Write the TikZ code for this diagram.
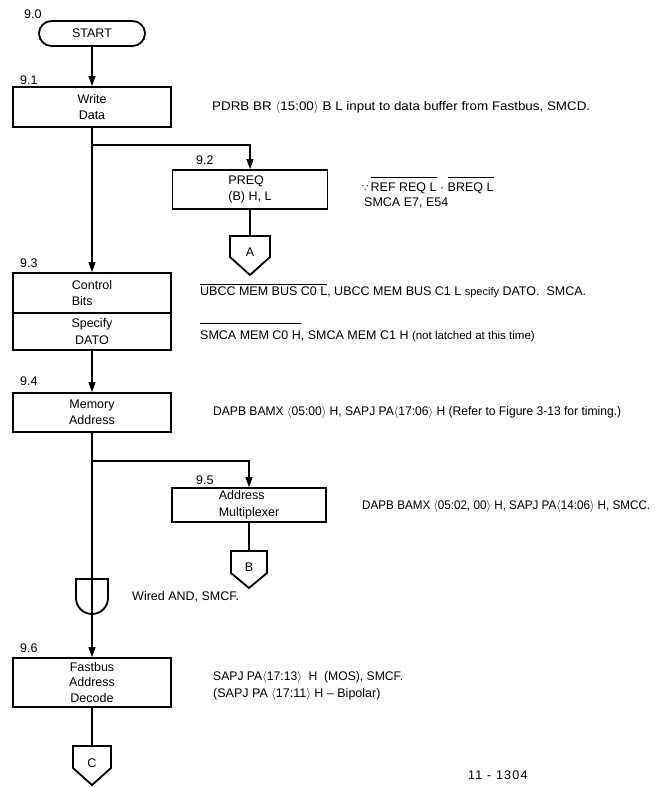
\documentclass[tikz,border=0pt]{standalone}
\usepackage{graphicx}
\usepackage{fontspec}
\setmainfont{Liberation Sans}
\newfontfamily\symfont{DejaVu Sans}
\newfontfamily\idfont[LetterSpace=10]{Liberation Sans}
\usetikzlibrary{arrows.meta}
\newcommand\angl{$\langle$}
\newcommand\angr{$\rangle$}
\newcommand\myovl[2][2pt]{\setbox0\hbox{#2}\rlap{\raisebox{\dimexpr\ht0+#1\relax}{\rule{\wd0}{0.8pt}}}\box0\relax}
\newcommand\fitto[2]{\resizebox{#1}{\height}{#2}}
\begin{document}
\begin{tikzpicture}[x=1pt,y=-1pt,
  every node/.style={font=\fontsize{12.5}{16.5}\selectfont},
  procbox/.style={draw, line width=1.8pt, inner sep=0pt, align=center, minimum width=158pt},
  conn/.style={line width=1.1pt},
  arr/.style={conn,-{Triangle[length=10pt,width=7pt]}},
  shp/.style={line width=1.8pt, line join=miter},
  note/.style={anchor=base west, inner sep=0pt},
  lbl/.style={anchor=base west, inner sep=0pt}]
\useasboundingbox (0,0) rectangle (654,787);

% step labels
\node[lbl] (l90) at (24,19) {9.0};
\node[lbl] (l91) at (20,84.6) {9.1};
\node[lbl] (l92) at (196,164.6) {9.2};
\node[lbl] (l93) at (20,267.6) {9.3};
\node[lbl] (l94) at (20,385.6) {9.4};
\node[lbl] (l95) at (196,484.6) {9.5};
\node[lbl] (l96) at (20,652.6) {9.6};

% boxes
\node[draw, line width=1.8pt, rounded corners=12.5pt, minimum width=106pt, minimum height=25pt, inner sep=0pt] (start) at (92,33.5) {START};
\node[procbox, minimum height=40pt] (b91) at (92,107) {Write\\Data};
\node[procbox, minimum width=155pt, minimum height=39pt, align=left] (b92) at (250,189.5) {PREQ\\(B) H, L};
\node[procbox, minimum height=40pt, align=left] (b93a) at (92,293) {Control\\Bits};
\node[procbox, minimum height=37pt] (b93b) at (92,331.5) {Specify\\DATO};
\node[procbox, minimum height=39pt] (b94) at (92,412.5) {Memory\\Address};
\node[procbox, minimum width=154pt, minimum height=34pt, align=left] (b95) at (249,505) {Address\\Multiplexer};
\node[procbox, minimum height=49pt, font=\fontsize{12.5}{15.5}\selectfont] (b96) at (92,682.5) {Fastbus\\Address\\Decode};

% off-page connectors
\draw[shp] (230,236) -- (270,236) -- (270,257) -- (250,275) -- (230,257) -- cycle;
\coordinate (Atop) at (250,236);
\node (Alab) at (250,252) {A};
\draw[shp] (231,551) -- (267,551) -- (267,573) -- (249,588) -- (231,573) -- cycle;
\coordinate (Btop) at (249,551);
\node (Blab) at (249,567) {B};
\draw[shp] (73,746) -- (111,746) -- (111,768) -- (92,785) -- (73,768) -- cycle;
\coordinate (Ctop) at (92,746);
\node (Clab) at (92,763) {C};

% wired AND gate
\draw[shp] (76,579) -- (108,579) -- (108,598) .. controls (108,607) and (100.8,614) .. (92,614) .. controls (83.2,614) and (76,607) .. (76,598) -- cycle;

% connectors
\coordinate (br1) at (92,145);
\coordinate (br2) at (92,461);
\draw[arr] (start) -- (b91);
\draw[conn] (b91.south) -- (br1);
\draw[arr] (br1) -| (b92.north);
\draw[arr] (br1) -- (b93a.north);
\draw[conn] (b92.south) -- (b92.south |- Atop);
\draw[arr] (b93b.south) -- (b94.north);
\draw[conn] (b94.south) -- (br2);
\draw[arr] (br2) -| (b95.north);
\draw[conn] (b95.south) -- (b95.south |- Btop);
\draw[arr] (br2) -- (b96.north);
\draw[conn] (b96.south) -- (Ctop);

% notes
\node[note] (n91) at (212,110.6) {\fitto{378pt}{PDRB BR \angl15:00\angr{} B L input to data buffer from Fastbus, SMCD.}};
\node[note] (n92a) at (362,191.6) {{\symfont\fontsize{10}{10}\selectfont ∵}\,\myovl[5pt]{REF REQ L} · \myovl[5pt]{BREQ L}};
\node[note] (n92b) at (364,206.6) {SMCA E7, E54};
\node[note] (n93a) at (200,295.6) {\myovl[2pt]{UBCC MEM BUS C0 L}, UBCC MEM BUS C1 L {\fontsize{11}{11}\selectfont specify} DATO.\ \ SMCA.};
\node[note] (n93b) at (200,339.6) {\myovl[7pt]{SMCA MEM C0 H}, SMCA MEM C1 H {\fontsize{11.5}{11.5}\selectfont (not latched at this time)}};
\node[note] (n94) at (213,415.6) {\fitto{408pt}{DAPB BAMX \angl05:00\angr{} H, SAPJ PA\angl17:06\angr{} H (Refer to Figure 3-13 for timing.)}};
\node[note] (n95) at (362,509.6) {\fitto{288pt}{DAPB BAMX \angl05:02, 00\angr{} H, SAPJ PA\angl14:06\angr{} H, SMCC.}};
\node[note] (nand) at (132,600.6) {Wired AND, SMCF.};
\node[note] (n96a) at (213,680.6) {\fitto{190pt}{SAPJ PA\angl17:13\angr{}\ \ H\ \ (MOS), SMCF.}};
\node[note] (n96b) at (213,697.6) {(SAPJ PA \angl17:11\angr{} H -- Bipolar)};
\node[note] (fig) at (468,779.6) {\idfont 11 - 1304};
\end{tikzpicture}
\end{document}
